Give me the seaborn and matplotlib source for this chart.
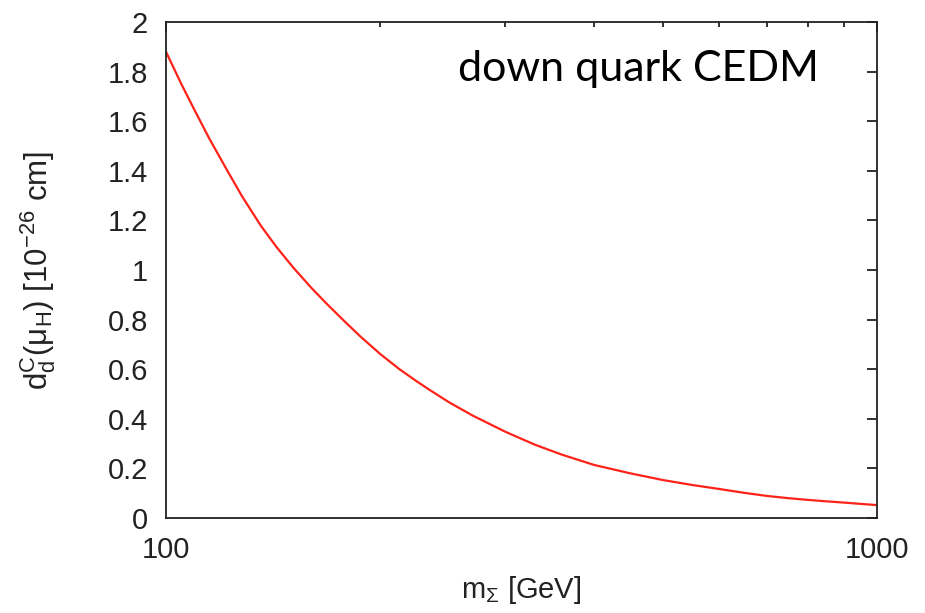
import numpy as np
import pandas as pd
import matplotlib
matplotlib.use('Agg')
import matplotlib.pyplot as plt
import matplotlib.ticker as mticker
import seaborn as sns

# values
m_sigma = [100, 105, 109, 115, 122, 128, 136, 143, 151, 160, 168, 178, 188, 200, 213, 225,
           235, 250, 270, 300, 330, 360, 400, 450, 500, 550, 600, 650, 700, 750, 800, 850, 900, 950, 1000]
d_cedm = [1.88, 1.752, 1.66, 1.531, 1.40, 1.296, 1.178, 1.093, 1.01, 0.929, 0.866, 0.795, 0.73, 0.662, 0.60, 0.552,
          0.516, 0.467, 0.413, 0.348, 0.296, 0.256, 0.214, 0.180, 0.153, 0.133, 0.117, 0.1016, 0.089, 0.080, 0.073, 0.067, 0.062, 0.0567, 0.052]

y_ticks = [0, 0.2, 0.4, 0.6, 0.8, 1, 1.2, 1.4, 1.6, 1.8, 2]
y_tick_labels = ['0', '0.2', '0.4', '0.6', '0.8', '1', '1.2', '1.4', '1.6', '1.8', '2']
x_ticks = [100, 1000]
x_tick_labels = ['100', '1000']

sns.set_style('white')
plt.rcParams['font.family'] = ['Liberation Sans', 'DejaVu Sans']
plt.rcParams['mathtext.fontset'] = 'custom'
plt.rcParams['mathtext.rm'] = 'Liberation Sans'
plt.rcParams['mathtext.it'] = 'Liberation Sans:italic'

df = pd.DataFrame({'m': m_sigma, 'd': d_cedm})

fig = plt.figure(figsize=(9.25, 6.13), dpi=100)
ax = fig.add_axes([0.1795, 0.155, 0.7685, 0.809])

sns.lineplot(data=df, x='m', y='d', ax=ax, color='#ff2218', linewidth=1.6)

ax.set_xscale('log')
ax.set_xlim(100, 1000)
ax.set_ylim(0, 2)
ax.set_xticks(x_ticks)
ax.set_xticklabels(x_tick_labels)
ax.xaxis.set_minor_locator(mticker.LogLocator(base=10, subs=np.arange(2, 10)))
ax.xaxis.set_minor_formatter(mticker.NullFormatter())
ax.set_yticks(y_ticks)
ax.set_yticklabels(y_tick_labels)

ax.tick_params(which='both', direction='in', top=True, right=True, colors='#222222',
               labelcolor='#222222', labelsize=21, width=1.3)
ax.tick_params(which='major', length=7.5, pad=13)
ax.tick_params(which='minor', length=3.5)
ax.tick_params(axis='x', which='major', pad=13)

for s in ax.spines.values():
    s.set_visible(True)
    s.set_color('#222222')
    s.set_linewidth(1.3)

ax.set_xlabel(r'$\mathrm{m_\Sigma}$ [GeV]', fontsize=21, color='#222222', labelpad=7)
ax.set_ylabel(r'$\mathrm{d_d^C(\mu_H)}$ [10$^{-26}$ cm]', fontsize=22.5, color='#222222', labelpad=36)

ax.text(0.411, 0.905, 'down quark CEDM', transform=ax.transAxes, fontsize=31,
        family=['Lato', 'DejaVu Sans'], color='black', va='center', ha='left')

fig.savefig('out.png', dpi=100)
